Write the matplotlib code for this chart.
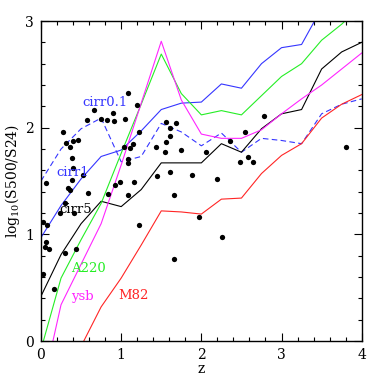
import matplotlib
matplotlib.use("Agg")
import matplotlib.pyplot as plt
import numpy as np

plt.rcParams['font.family'] = ['DejaVu Serif']
plt.rcParams['mathtext.fontset'] = 'dejavuserif'

# model tracks (redshift grid shared by all)
z_grid = [0, 0.25, 0.5, 0.75, 1.0, 1.25, 1.5, 1.75, 2.0, 2.25, 2.5, 2.75, 3.0, 3.25, 3.5, 3.75, 4.0]
cirr01 = [1.50, 1.80, 1.99, 2.09, 1.68, 1.73, 2.04, 1.96, 1.83, 1.95, 1.77, 1.90, 1.88, 1.85, 2.13, 2.22, 2.27]
cirr1 = [0.97, 1.27, 1.52, 1.73, 1.79, 1.97, 2.17, 2.23, 2.24, 2.41, 2.37, 2.60, 2.75, 2.78, 3.12, 3.30, 3.50]
cirr5 = [0.42, 0.81, 1.10, 1.31, 1.26, 1.42, 1.67, 1.67, 1.67, 1.85, 1.77, 1.99, 2.13, 2.17, 2.55, 2.71, 2.80]
a220 = [-0.08, 0.59, 0.95, 1.29, 1.76, 2.22, 2.69, 2.32, 2.12, 2.16, 2.12, 2.30, 2.48, 2.60, 2.82, 2.97, 3.15]
ysb = [-0.50, 0.34, 0.72, 1.10, 1.65, 2.23, 2.81, 2.26, 1.94, 1.90, 1.90, 1.98, 2.13, 2.27, 2.40, 2.55, 2.70]
m82 = [-1.00, -0.50, -0.05, 0.32, 0.59, 0.90, 1.22, 1.21, 1.19, 1.33, 1.34, 1.57, 1.74, 1.85, 2.09, 2.22, 2.31]

# observed sources
z_obs = [0.059, 0.278, 0.312, 0.362, 0.395, 0.465, 0.383, 0.395, 0.383, 0.520,
         0.333, 0.362, 0.590, 0.577, 0.657, 0.748, 0.819, 0.901, 0.910, 1.044,
         1.081, 1.197, 1.226, 1.039, 1.110, 1.151, 1.089, 1.081, 0.985, 0.923,
         1.160, 0.839, 1.089, 1.430, 1.559, 1.680, 1.608, 1.608, 1.559, 1.550,
         1.746, 1.443, 1.608, 1.887, 1.658, 2.057, 2.357, 2.544, 2.784, 2.481,
         2.585, 2.647, 2.191, 3.803, 0.299, 0.237, 0.411, 0.021, 0.079, 0.062,
         0.050, 0.100, 0.299, 0.436, 0.029, 0.162, 1.222, 1.662, 1.970, 2.253]
r_obs = [1.481, 1.956, 1.853, 1.818, 1.874, 1.887, 1.718, 1.624, 1.506, 1.559,
         1.437, 1.415, 1.390, 2.071, 2.165, 2.078, 2.068, 2.140, 2.065, 2.081,
         2.321, 2.209, 1.956, 1.818, 1.806, 1.843, 1.703, 1.665, 1.490, 1.462,
         1.493, 1.378, 1.368, 1.821, 2.052, 2.040, 1.999, 1.918, 1.868, 1.774,
         1.787, 1.549, 1.587, 1.556, 1.368, 1.774, 1.874, 1.956, 2.106, 1.678,
         1.724, 1.678, 1.515, 1.818, 1.296, 1.197, 1.197, 1.118, 1.087, 0.931,
         0.878, 0.862, 0.828, 0.859, 0.625, 0.487, 1.087, 0.766, 1.159, 0.978]

fig = plt.figure(figsize=(3.82, 3.82), dpi=100)
ax = fig.add_axes([0.1073, 0.1073, 0.8396, 0.8377])

lw = 0.8
ax.plot(z_grid, cirr01, color='#3535ff', lw=lw, ls=(0, (5, 3)))
ax.plot(z_grid, cirr1, color='#3535ff', lw=lw)
ax.plot(z_grid, cirr5, color='black', lw=lw)
ax.plot(z_grid, a220, color='#25ee25', lw=lw)
ax.plot(z_grid, ysb, color='#ff25ff', lw=lw)
ax.plot(z_grid, m82, color='#ff2525', lw=lw)
ax.plot(z_obs, r_obs, 'o', color='black', ms=3.8, mew=0)

fs = 9.5
ax.text(0.51, 2.24, 'cirr0.1', color='#3535ff', fontsize=fs, va='center')
ax.text(0.19, 1.58, 'cirr1', color='#3535ff', fontsize=fs, va='center')
ax.text(0.23, 1.23, 'cirr5', color='black', fontsize=fs, va='center')
ax.text(0.37, 0.68, 'A220', color='#25ee25', fontsize=fs, va='center')
ax.text(0.37, 0.42, 'ysb', color='#ff25ff', fontsize=fs, va='center')
ax.text(0.96, 0.43, 'M82', color='#ff2525', fontsize=fs, va='center')

ax.set_xlim(0, 4)
ax.set_ylim(0, 3)
ax.set_xticks([0, 1, 2, 3, 4])
ax.set_yticks([0, 1, 2, 3])
ax.set_xticks(np.arange(0, 4.01, 0.2), minor=True)
ax.set_yticks(np.arange(0, 3.01, 0.2), minor=True)
ax.tick_params(which='both', direction='in', top=True, right=True, labelsize=10, width=0.8)
ax.tick_params(which='major', length=6, pad=5)
ax.tick_params(which='minor', length=3)
for s in ax.spines.values():
    s.set_linewidth(1.0)

ax.set_xlabel('z', fontsize=10, labelpad=0)
ax.set_ylabel('log$_{10}$(S500/S24)', fontsize=10, labelpad=2)

fig.savefig('out.png', dpi=100)
